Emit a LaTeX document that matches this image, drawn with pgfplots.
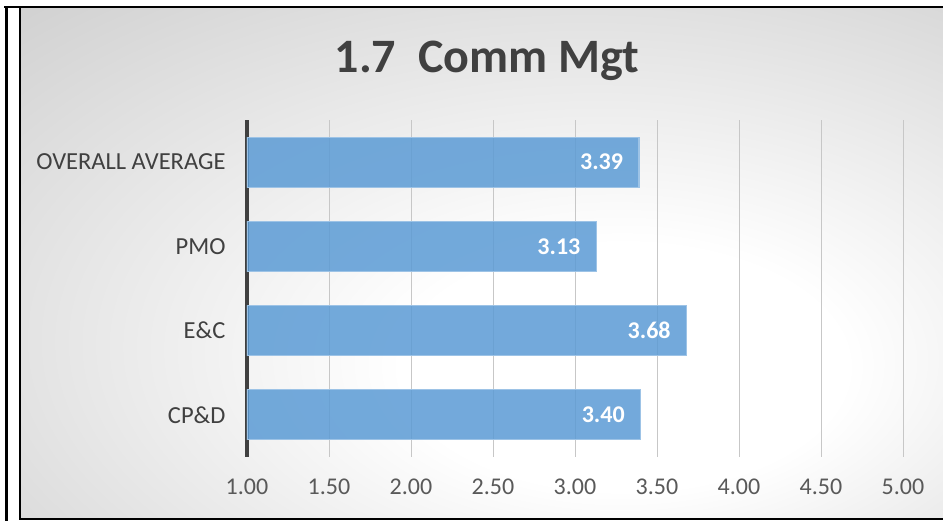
\documentclass[border=0pt]{standalone}
\usepackage{pgfplots}
\pgfplotsset{compat=1.18}
\usepackage{fontspec}
\setmainfont{Carlito}
\definecolor{bargreyt}{HTML}{404040}
\definecolor{ticktxt}{HTML}{595959}
\definecolor{barblue}{HTML}{5B9BD5}
\definecolor{baredge}{HTML}{9DC3E6}
\definecolor{bgout}{HTML}{BEBEBE}
\pgfdeclareradialshading{bgshade}{\pgfpoint{9bp}{-12bp}}{%
  color(0bp)=(white); color(12bp)=(white); color(55bp)=(bgout); color(80bp)=(bgout)}
\begin{document}
\begin{tikzpicture}
\path[use as bounding box] (0,0) rectangle (943pt,521pt);
\fill[white] (0,0) rectangle (943pt,521pt);
\shade[shading=bgshade] (20pt,2pt) rectangle (945pt,514pt);
\node[font=\bfseries\fontsize{48}{52}\selectfont, text=bargreyt, anchor=base] at (487pt,448pt) {1.7\ \ Comm Mgt};
\begin{axis}[
  at={(247pt,64pt)}, anchor=south west,
  scale only axis, width=656pt, height=337pt,
  xmin=1, xmax=5, ymin=-0.5, ymax=3.5,
  xbar, bar width=50pt,
  axis lines=left, axis line style={-},
  x axis line style={draw=none},
  y axis line style={draw=bargreyt, line width=3pt},
  major tick length=0pt,
  xtick={1,1.5,...,5},
  xmajorgrids, grid style={draw=black!22, line width=1pt},
  ytick={0,1,2,3},
  yticklabels={CP\&D,E\&C,PMO,OVERALL AVERAGE},
  yticklabel style={font=\fontsize{24.5}{26}\selectfont, text=bargreyt, xshift=-18pt},
  xticklabel style={font=\fontsize{24}{26}\selectfont, text=ticktxt, yshift=-18pt},
  /pgf/number format/assume math mode=true,
  xticklabel={\pgfmathprintnumber[fixed,fixed zerofill,precision=2]{\tick}},
  point meta=x,
  nodes near coords={\pgfmathprintnumber[fixed,fixed zerofill,precision=2]{\pgfplotspointmeta}},
  nodes near coords style={anchor=east, xshift=-12pt, font=\bfseries\fontsize{24}{26}\selectfont, text=white, opacity=1, text opacity=1},
]
\addplot[fill=barblue, fill opacity=0.85, draw=baredge, line width=1.2pt] coordinates {
  (3.40,0) (3.68,1) (3.13,2) (3.39,3)
};
\end{axis}
\draw[black, line width=2.5pt] (4pt,514pt) -- (945pt,514pt);
\draw[black, line width=2.5pt] (6.5pt,-2pt) -- (6.5pt,515pt);
\draw[black, line width=2pt] (20pt,513pt) -- (20pt,1.5pt) -- (945pt,1.5pt);
\end{tikzpicture}
\end{document}
